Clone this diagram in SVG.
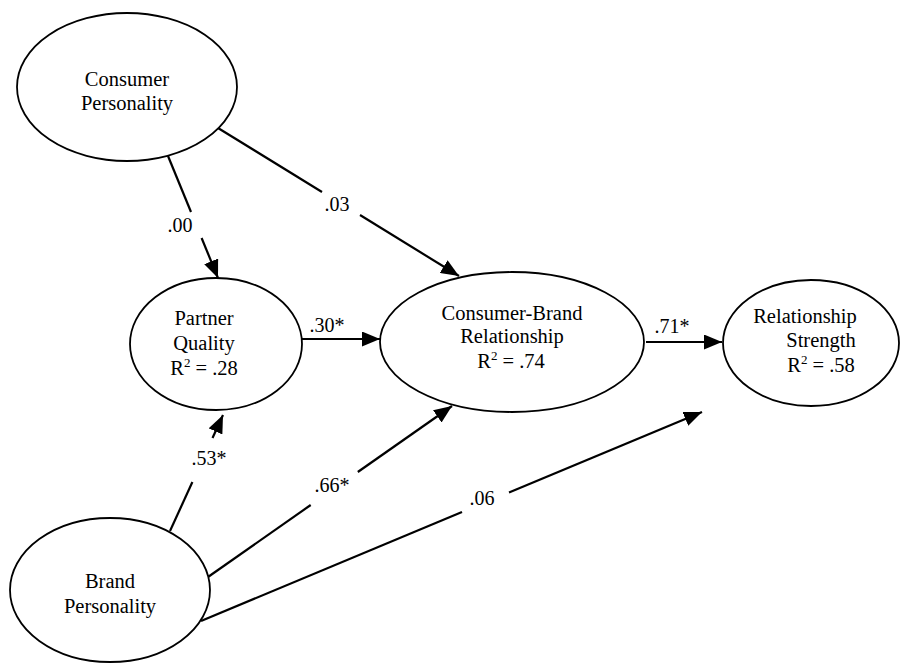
<svg xmlns="http://www.w3.org/2000/svg" width="909" height="663" viewBox="0 0 909 663">
<style>
.node{fill:#fff;stroke:#000;stroke-width:1.8}
.t{font-family:"Liberation Serif","Times New Roman",serif;font-size:20.5px;fill:#000;text-anchor:middle}
.lbl{font-family:"Liberation Serif","Times New Roman",serif;font-size:20px;fill:#000;text-anchor:middle}
.e{fill:none;stroke:#000;stroke-width:2.2}
.sup{font-size:13px}
</style>
<defs>
<marker id="ah" markerUnits="userSpaceOnUse" markerWidth="18" markerHeight="15" refX="18" refY="7.5" orient="auto">
<path d="M0,0 L18,7.5 L0,15 z" fill="#000"/>
</marker>
</defs>
<rect width="909" height="663" fill="#fff"/>
<g id="connectors">
<path class="e" d="M168,156 L191,212"/>
<path class="e" d="M201.6,238 L218,278" marker-end="url(#ah)"/>
<path class="e" d="M218,128 L322,192"/>
<path class="e" d="M360,215 L459,276" marker-end="url(#ah)"/>
<path class="e" d="M301,339 L380,339" marker-end="url(#ah)"/>
<path class="e" d="M646,342 L722,342" marker-end="url(#ah)"/>
<path class="e" d="M170,531 L192.4,482"/>
<path class="e" d="M212.5,438 L223,415" marker-end="url(#ah)"/>
<path class="e" d="M208,577 L310.7,505"/>
<path class="e" d="M357.8,472 L452,406" marker-end="url(#ah)"/>
<path class="e" d="M201,621 L462,512"/>
<path class="e" d="M509,492.5 L702,412" marker-end="url(#ah)"/>
<text class="lbl" x="180" y="232">.00</text>
<text class="lbl" x="337" y="211">.03</text>
<text class="lbl" x="327" y="332">.30*</text>
<text class="lbl" x="672" y="333">.71*</text>
<text class="lbl" x="209" y="465">.53*</text>
<text class="lbl" x="332" y="492">.66*</text>
<text class="lbl" x="482" y="505">.06</text>
</g>
<g id="consumer-personality">
<ellipse class="node" cx="127" cy="87" rx="110" ry="74"/>
<text class="t" x="127" y="86">Consumer</text>
<text class="t" x="127" y="110">Personality</text>
</g>
<g id="partner-quality">
<ellipse class="node" cx="216" cy="344" rx="86" ry="66"/>
<text class="t" x="204" y="325">Partner</text>
<text class="t" x="204" y="350">Quality</text>
<text class="t" x="204" y="375">R<tspan class="sup" dy="-8">2</tspan><tspan dy="8"> = .28</tspan></text>
</g>
<g id="consumer-brand-relationship">
<ellipse class="node" cx="512" cy="342" rx="132" ry="70"/>
<text class="t" x="512" y="320">Consumer-Brand</text>
<text class="t" x="512" y="343">Relationship</text>
<text class="t" x="511" y="368">R<tspan class="sup" dy="-8">2</tspan><tspan dy="8"> = .74</tspan></text>
</g>
<g id="relationship-strength">
<ellipse class="node" cx="811" cy="343" rx="88" ry="63"/>
<text class="t" x="805" y="323">Relationship</text>
<text class="t" x="821" y="347">Strength</text>
<text class="t" x="821" y="372">R<tspan class="sup" dy="-8">2</tspan><tspan dy="8"> = .58</tspan></text>
</g>
<g id="brand-personality">
<ellipse class="node" cx="110" cy="590" rx="100" ry="72"/>
<text class="t" x="110" y="588">Brand</text>
<text class="t" x="110" y="613">Personality</text>
</g>
</svg>
